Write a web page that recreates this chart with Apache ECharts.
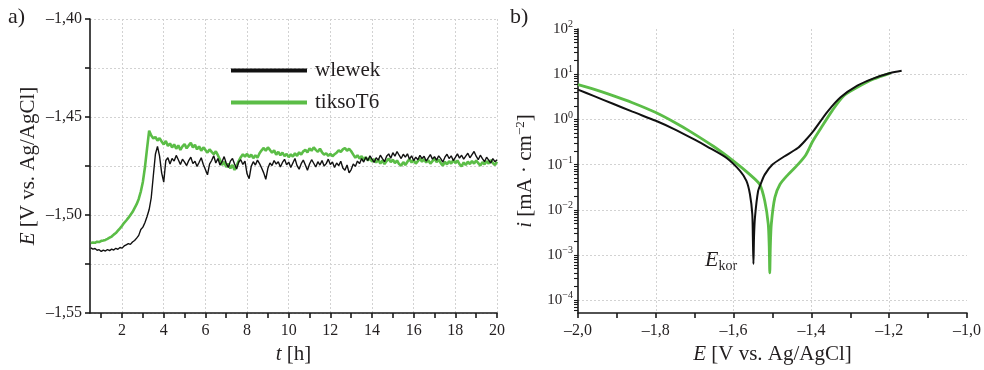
<!DOCTYPE html>
<html><head><meta charset="utf-8">
<script src="https://cdn.jsdelivr.net/npm/echarts@6/dist/echarts.min.js"></script>
<style>html,body{margin:0;padding:0;background:#fff}#c{width:984px;height:370px}</style>
</head><body><div id="c"></div>
<script>
const FONT = '"Liberation Serif","Times New Roman",serif';
const TXT = '#231f20';
const BLACK = '#111111';
const GREEN = '#5bbd47';

// ---------- panel a) : E vs t ----------
const tStart = 0.5, tStep = 0.1;   // sampling grid of the recorded potentials [h]
const wlewekE = [
 -1.5168,-1.5174,-1.5171,-1.5180,-1.5177,-1.5186,-1.5179,-1.5184,-1.5176,-1.5182,
 -1.5174,-1.5179,-1.5170,-1.5175,-1.5166,-1.5169,-1.5158,-1.5152,-1.5146,-1.5150,
 -1.5138,-1.5130,-1.5118,-1.5104,-1.5074,-1.5062,-1.5038,-1.5008,-1.4972,-1.4912,
 -1.4800,-1.4690,-1.4650,-1.4700,-1.4785,-1.4832,-1.4722,-1.4708,-1.4740,-1.4712,
 -1.4725,-1.4696,-1.4718,-1.4742,-1.4715,-1.4730,-1.4748,-1.4722,-1.4705,-1.4738,
 -1.4726,-1.4752,-1.4731,-1.4708,-1.4742,-1.4768,-1.4795,-1.4740,-1.4722,-1.4698,
 -1.4735,-1.4712,-1.4745,-1.4728,-1.4702,-1.4736,-1.4758,-1.4725,-1.4712,-1.4740,
 -1.4765,-1.4730,-1.4718,-1.4742,-1.4725,-1.4790,-1.4815,-1.4752,-1.4728,-1.4745,
 -1.4720,-1.4738,-1.4760,-1.4785,-1.4818,-1.4762,-1.4735,-1.4748,-1.4722,-1.4740,
 -1.4728,-1.4755,-1.4732,-1.4716,-1.4744,-1.4730,-1.4758,-1.4735,-1.4712,-1.4748,
 -1.4766,-1.4738,-1.4720,-1.4745,-1.4772,-1.4740,-1.4718,-1.4736,-1.4755,-1.4728,
 -1.4745,-1.4722,-1.4750,-1.4738,-1.4715,-1.4742,-1.4730,-1.4758,-1.4735,-1.4748,
 -1.4726,-1.4760,-1.4772,-1.4745,-1.4785,-1.4768,-1.4740,-1.4752,-1.4725,-1.4738,
 -1.4712,-1.4730,-1.4705,-1.4722,-1.4698,-1.4715,-1.4732,-1.4708,-1.4720,-1.4695,
 -1.4712,-1.4728,-1.4700,-1.4688,-1.4710,-1.4682,-1.4700,-1.4676,-1.4695,-1.4712,
 -1.4690,-1.4705,-1.4688,-1.4715,-1.4698,-1.4722,-1.4705,-1.4718,-1.4696,-1.4712,
 -1.4700,-1.4725,-1.4708,-1.4692,-1.4715,-1.4702,-1.4720,-1.4698,-1.4712,-1.4730,
 -1.4705,-1.4690,-1.4712,-1.4698,-1.4722,-1.4706,-1.4688,-1.4710,-1.4695,-1.4715,
 -1.4700,-1.4685,-1.4708,-1.4692,-1.4676,-1.4700,-1.4718,-1.4695,-1.4712,-1.4728,
 -1.4705,-1.4720,-1.4735,-1.4712,-1.4728,-1.4718
];
const tiksoE = [
 -1.5143,-1.5140,-1.5142,-1.5136,-1.5138,-1.5132,-1.5130,-1.5127,-1.5122,-1.5116,
 -1.5110,-1.5100,-1.5092,-1.5080,-1.5068,-1.5055,-1.5040,-1.5028,-1.5015,-1.5000,
 -1.4985,-1.4965,-1.4945,-1.4918,-1.4880,-1.4830,-1.4755,-1.4660,-1.4570,-1.4595,
 -1.4610,-1.4602,-1.4620,-1.4608,-1.4625,-1.4640,-1.4622,-1.4648,-1.4635,-1.4655,
 -1.4640,-1.4662,-1.4645,-1.4668,-1.4650,-1.4638,-1.4660,-1.4645,-1.4632,-1.4655,
 -1.4642,-1.4665,-1.4650,-1.4672,-1.4655,-1.4668,-1.4682,-1.4665,-1.4678,-1.4690,
 -1.4675,-1.4695,-1.4718,-1.4745,-1.4728,-1.4755,-1.4738,-1.4762,-1.4745,-1.4770,
 -1.4748,-1.4725,-1.4705,-1.4690,-1.4702,-1.4688,-1.4705,-1.4692,-1.4710,-1.4695,
 -1.4708,-1.4685,-1.4670,-1.4658,-1.4672,-1.4655,-1.4668,-1.4682,-1.4670,-1.4692,
 -1.4678,-1.4695,-1.4682,-1.4700,-1.4688,-1.4705,-1.4690,-1.4702,-1.4685,-1.4698,
 -1.4680,-1.4692,-1.4675,-1.4668,-1.4680,-1.4660,-1.4672,-1.4655,-1.4668,-1.4678,
 -1.4662,-1.4680,-1.4692,-1.4685,-1.4698,-1.4688,-1.4700,-1.4690,-1.4682,-1.4670,
 -1.4678,-1.4665,-1.4658,-1.4672,-1.4662,-1.4675,-1.4692,-1.4708,-1.4695,-1.4712,
 -1.4700,-1.4718,-1.4705,-1.4722,-1.4710,-1.4728,-1.4715,-1.4732,-1.4718,-1.4738,
 -1.4722,-1.4740,-1.4725,-1.4712,-1.4730,-1.4718,-1.4735,-1.4722,-1.4740,-1.4748,
 -1.4730,-1.4745,-1.4728,-1.4715,-1.4732,-1.4720,-1.4738,-1.4725,-1.4712,-1.4728,
 -1.4715,-1.4732,-1.4720,-1.4738,-1.4725,-1.4712,-1.4730,-1.4718,-1.4735,-1.4748,
 -1.4728,-1.4742,-1.4725,-1.4738,-1.4720,-1.4735,-1.4722,-1.4740,-1.4752,-1.4732,
 -1.4745,-1.4728,-1.4740,-1.4725,-1.4738,-1.4722,-1.4735,-1.4748,-1.4730,-1.4742,
 -1.4725,-1.4738,-1.4720,-1.4735,-1.4745,-1.4728
];
const tLabels = [2,4,6,8,10,12,14,16,18,20];
const tTicks = [1,2,3,4,5,6,7,8,9,10,11,12,13,14,15,16,17,18,19,20];
const eLabelsA = [-1.55,-1.50,-1.45,-1.40];
const eTicksA = [-1.55,-1.525,-1.50,-1.475,-1.45,-1.425,-1.40];

// ---------- panel b) : polarization curves ----------
const polE_wlewek = [-2.000,-1.960,-1.910,-1.860,-1.800,-1.753,-1.700,-1.668,-1.618,-1.583,-1.567,-1.558,-1.552,-1.5505,-1.549,-1.5475,-1.545,-1.537,-1.530,-1.520,-1.500,-1.470,-1.435,-1.418,-1.393,-1.359,-1.325,-1.282,-1.240,-1.197,-1.168];
const polI_wlewek = [4.57,3.31,2.22,1.48,0.933,0.61,0.355,0.251,0.140,0.0718,0.0435,0.0221,0.0081,0.0025,0.00063,0.0025,0.0069,0.026,0.038,0.060,0.100,0.151,0.232,0.324,0.581,1.466,3.09,5.58,8.09,10.6,11.9];
const polE_tikso = [-2.000,-1.960,-1.923,-1.860,-1.800,-1.750,-1.711,-1.651,-1.600,-1.558,-1.533,-1.520,-1.511,-1.5085,-1.507,-1.5055,-1.503,-1.494,-1.481,-1.460,-1.435,-1.414,-1.397,-1.376,-1.346,-1.316,-1.282,-1.240,-1.197];
const polI_tikso = [5.87,4.68,3.67,2.34,1.416,0.843,0.537,0.251,0.119,0.060,0.0366,0.0158,0.0049,0.0016,0.0004,0.0016,0.0049,0.0186,0.0363,0.060,0.100,0.166,0.324,0.631,1.585,3.37,5.13,7.82,10.6];
const eLabelsB = [-2.0,-1.8,-1.6,-1.4,-1.2,-1.0];
const eTicksB = [-2.0,-1.9,-1.8,-1.7,-1.6,-1.5,-1.4,-1.3,-1.2,-1.1,-1.0];
const eGridB = [-1.8,-1.6,-1.4,-1.2];
const iLabels = [1e-4,1e-3,1e-2,1e-1,1,10,100];
const iGrid = [1e-4,1e-3,1e-2,1e-1,1,10];
const iMinorMult = [2,3,4,5,6,7,8,9];
const iMinorDecades = [1e-5,1e-4,1e-3,1e-2,1e-1,1,10];

// ---------- build ----------
const tsData = arr => arr.map((v, k) => [+(tStart + k * tStep).toFixed(2), v]);
const pair = (xs, ys) => xs.map((x, k) => [x, ys[k]]);
const iTicks = iLabels.slice();
iMinorDecades.forEach(d => iMinorMult.forEach(m => iTicks.push(+(d * m).toPrecision(3))));
iTicks.sort((a, b) => a - b);

const dash = '\u2013';
const fmtA = v => dash + Math.abs(Math.round(v * 100) / 100).toFixed(2).replace('.', ',');
const fmtB = v => (v < 0 ? dash : '') + Math.abs(v).toFixed(1).replace('.', ',');
const fmtLog = v => { const e = Math.round(Math.log10(v)); return '{b|10}{s|' + (e < 0 ? '\u2212' + (-e) : e) + '}'; };

const axisLineStyle = { color: '#1a1a1a', width: 1.6 };
const gridLine = { show: true, lineStyle: { color: '#d2d2d2', type: [2, 2], width: 1 } };
const tickLabel = { fontFamily: FONT, fontSize: 16, color: TXT };
const nameStyle = { fontFamily: FONT, fontSize: 21, color: TXT,
  rich: { it: { fontFamily: FONT, fontSize: 21, fontStyle: 'italic', color: TXT },
          n: { fontFamily: FONT, fontSize: 21, color: TXT },
          sup: { fontFamily: FONT, fontSize: 13, color: TXT, padding: [0, 0, 10, 0] } } };

const chart = echarts.init(document.getElementById('c'), null, { renderer: 'canvas' });
chart.setOption({
  animation: false,
  backgroundColor: '#ffffff',
  grid: [
    { left: 90, top: 19, right: 487, bottom: 53 },
    { left: 578, top: 29, right: 13, bottom: 53 }
  ],
  legend: {
    left: 226, top: 55, orient: 'vertical', selectedMode: false,
    itemWidth: 76, itemHeight: 4, itemGap: 11, icon: 'rect',
    textStyle: { fontFamily: FONT, fontSize: 21, color: TXT, padding: [0, 0, 0, 3] },
    data: ['wlewek', 'tiksoT6']
  },
  xAxis: [
    { gridIndex: 0, type: 'value', min: 0.46, max: 20,
      name: '{it|t}{n| [h]}', nameLocation: 'middle', nameGap: 31, nameTextStyle: nameStyle,
      axisLine: { show: true, lineStyle: axisLineStyle },
      axisTick: { show: true, length: 5, inside: false, customValues: tTicks, lineStyle: axisLineStyle },
      axisLabel: Object.assign({ customValues: tLabels, margin: 10 }, tickLabel),
      splitLine: { show: false } },
    { gridIndex: 0, type: 'value', min: 0.46, max: 20, position: 'bottom',
      axisLine: { show: false }, axisLabel: { show: false },
      axisTick: { show: false, customValues: tLabels }, splitLine: gridLine },
    { gridIndex: 1, type: 'value', min: -2, max: -1,
      name: '{it|E}{n| [V vs. Ag/AgCl]}', nameLocation: 'middle', nameGap: 31, nameTextStyle: nameStyle,
      axisLine: { show: true, lineStyle: axisLineStyle },
      axisTick: { show: true, length: 5, customValues: eTicksB, lineStyle: axisLineStyle },
      axisLabel: Object.assign({ customValues: eLabelsB, margin: 10, formatter: fmtB }, tickLabel),
      splitLine: { show: false } },
    { gridIndex: 1, type: 'value', min: -2, max: -1, position: 'bottom',
      axisLine: { show: false }, axisLabel: { show: false },
      axisTick: { show: false, customValues: eGridB }, splitLine: gridLine }
  ],
  yAxis: [
    { gridIndex: 0, type: 'value', min: -1.55, max: -1.40,
      name: '{it|E}{n| [V vs. Ag/AgCl]}', nameLocation: 'middle', nameGap: 51, nameTextStyle: nameStyle,
      axisLine: { show: true, lineStyle: axisLineStyle },
      axisTick: { show: true, length: 5, customValues: eTicksA, lineStyle: axisLineStyle },
      axisLabel: Object.assign({ customValues: eLabelsA, margin: 8, formatter: fmtA }, tickLabel),
      splitLine: gridLine },
    { gridIndex: 1, type: 'log', logBase: 10, min: 5.2e-5, max: 100, position: 'left',
      name: '{it|i}{n| [mA · cm}{sup|\u22122}{n|]}', nameLocation: 'middle', nameGap: 41, nameTextStyle: nameStyle,
      axisLine: { show: true, lineStyle: axisLineStyle },
      axisTick: { show: true, length: 4, customValues: iTicks, lineStyle: { color: '#1a1a1a', width: 1.1 } },
      axisLabel: { customValues: iLabels, margin: 5, formatter: fmtLog,
        rich: { b: { fontFamily: FONT, fontSize: 15, color: TXT },
                s: { fontFamily: FONT, fontSize: 10, color: TXT, padding: [0, 0, 9, 0] } } },
      splitLine: { show: false } },
    { gridIndex: 1, type: 'log', logBase: 10, min: 5.2e-5, max: 100, position: 'right',
      axisLine: { show: false }, axisLabel: { show: false },
      axisTick: { show: false, customValues: iGrid }, splitLine: gridLine }
  ],
  series: [
    { name: 'tiksoT6', type: 'line', xAxisIndex: 0, yAxisIndex: 0, data: tsData(tiksoE),
      showSymbol: false, color: GREEN, lineStyle: { color: GREEN, width: 2.6 }, z: 2 },
    { name: 'wlewek', type: 'line', xAxisIndex: 0, yAxisIndex: 0, data: tsData(wlewekE),
      showSymbol: false, color: BLACK, lineStyle: { color: BLACK, width: 1.4 }, z: 3 },
    { name: 'tiksoT6', type: 'line', xAxisIndex: 2, yAxisIndex: 1, data: pair(polE_tikso, polI_tikso),
      showSymbol: false, smooth: 0.25, color: GREEN, lineStyle: { color: GREEN, width: 2.8 }, z: 2 },
    { name: 'wlewek', type: 'line', xAxisIndex: 2, yAxisIndex: 1, data: pair(polE_wlewek, polI_wlewek),
      showSymbol: false, smooth: 0.25, color: BLACK, lineStyle: { color: BLACK, width: 2 }, z: 3 }
  ],
  graphic: [
    { type: 'text', left: 8, top: 6, style: { text: 'a)', font: '22px ' + FONT, fill: TXT } },
    { type: 'text', left: 510, top: 6, style: { text: 'b)', font: '22px ' + FONT, fill: TXT } },
    { type: 'text', left: 705, top: 249, style: { text: '{e|E}{k|kor}', fill: TXT,
        rich: { e: { fontFamily: FONT, fontSize: 22, fontStyle: 'italic', fill: TXT },
                k: { fontFamily: FONT, fontSize: 14, fill: TXT, padding: [12, 0, 0, 0] } } } }
  ]
});
</script>
</body></html>
